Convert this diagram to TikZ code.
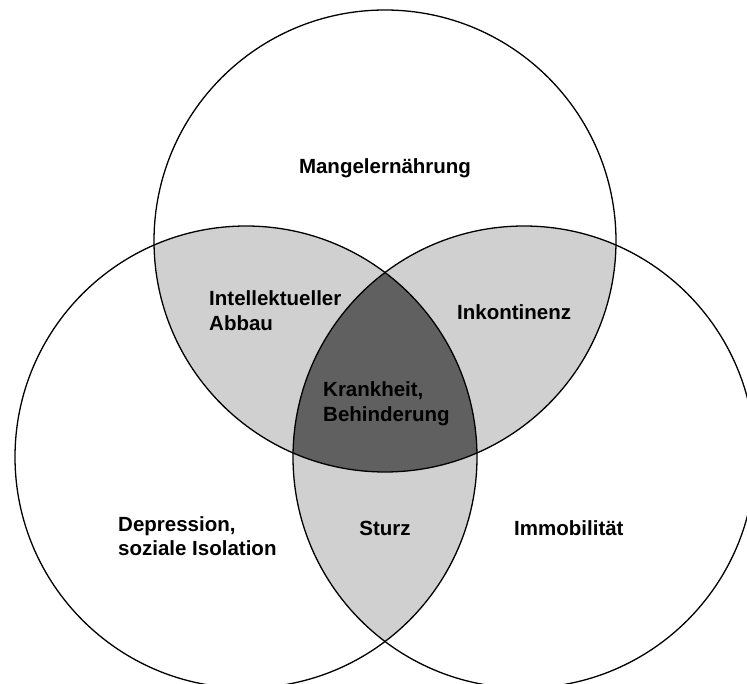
\documentclass[tikz,border=0pt]{standalone}
\usepackage{fontspec}
\setmainfont{Liberation Sans}
\definecolor{lightgr}{RGB}{208,208,208}
\definecolor{darkgr}{RGB}{96,96,96}
\begin{document}
\begin{tikzpicture}[x=1pt,y=-1pt,
  lbl/.style={font=\fontsize{20.5}{24.5}\selectfont\bfseries, inner sep=0pt, align=left, text=black},
  ring/.style={draw=black, line width=1.3pt}]
\useasboundingbox (0,0) rectangle (747,684);
\fill[white] (0,0) rectangle (747,684);
\clip (0,0) rectangle (747,684);
\def\R{231}
\coordinate (T) at (385,241);
\coordinate (L) at (246,457);
\coordinate (Rc) at (524,457);
% pairwise intersections
\begin{scope}
  \clip (T) circle (\R);
  \fill[lightgr] (L) circle (\R);
  \fill[lightgr] (Rc) circle (\R);
\end{scope}
\begin{scope}
  \clip (L) circle (\R);
  \fill[lightgr] (Rc) circle (\R);
\end{scope}
% triple intersection
\begin{scope}
  \clip (T) circle (\R);
  \clip (L) circle (\R);
  \fill[darkgr] (Rc) circle (\R);
\end{scope}
\draw[ring] (T) circle (\R);
\draw[ring] (L) circle (\R);
\draw[ring] (Rc) circle (\R);
% labels
\node[lbl] (mangel) at (385,168) {Mangelern\"ahrung};
\node[lbl, anchor=west] (intel) at (209,310.5) {Intellektueller\\Abbau};
\node[lbl, anchor=west] (inkont) at (457,312) {Inkontinenz};
\node[lbl, anchor=west] (krank) at (323,403.5) {Krankheit,\\Behinderung};
\node[lbl, anchor=west] (depr) at (118,536) {Depression,\\soziale Isolation};
\node[lbl] (sturz) at (385,528) {Sturz};
\node[lbl, anchor=west] (immob) at (514,528) {Immobilit\"at};
\end{tikzpicture}
\end{document}
